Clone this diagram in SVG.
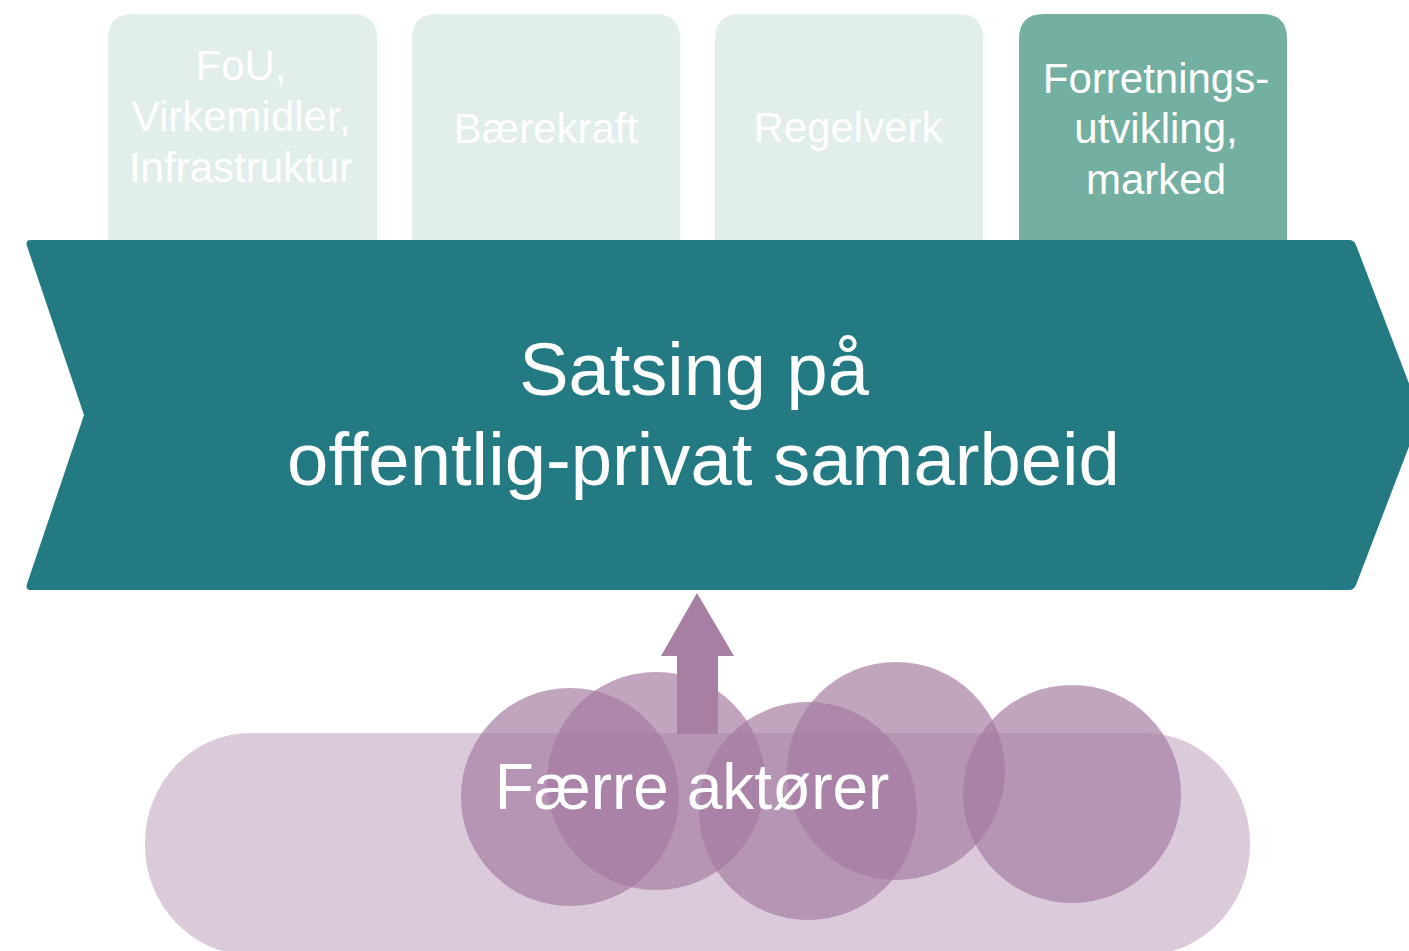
<svg xmlns="http://www.w3.org/2000/svg" width="1409" height="951" viewBox="0 0 1409 951">
  <style>
    .lbl { font-family: "Liberation Sans", Arial, sans-serif; fill: #ffffff; text-anchor: middle; }
    .top { font-size: 42px; }
    .box { fill: #E1EEEC; }
    .boxdark { fill: #74B0A2; }
    .circ { fill: #A37BA1; fill-opacity: 0.68; }
  </style>
  <rect width="1409" height="951" fill="#ffffff"/>

  <g id="box-fou">
    <path class="box" d="M108,250 V39 Q108,14 133,14 H352 Q377,14 377,39 V250 Z"/>
    <text class="lbl top" x="241" y="80">FoU,</text>
    <text class="lbl top" x="241" y="131">Virkemidler,</text>
    <text class="lbl top" x="241" y="182">Infrastruktur</text>
  </g>
  <g id="box-baerekraft">
    <path class="box" d="M412,250 V39 Q412,14 437,14 H655 Q680,14 680,39 V250 Z"/>
    <text class="lbl top" x="546" y="143">Bærekraft</text>
  </g>
  <g id="box-regelverk">
    <path class="box" d="M715,250 V39 Q715,14 740,14 H958 Q983,14 983,39 V250 Z"/>
    <text class="lbl top" x="848" y="142">Regelverk</text>
  </g>
  <g id="box-forretning">
    <path class="boxdark" d="M1019,250 V39 Q1019,14 1044,14 H1262 Q1287,14 1287,39 V250 Z"/>
    <text class="lbl top" x="1156" y="93">Forretnings-</text>
    <text class="lbl top" x="1156" y="143">utvikling,</text>
    <text class="lbl top" x="1156" y="194">marked</text>
  </g>

  <g id="chevron">
    <path fill="#247A82" d="M31,240 H1349 Q1354,240 1356,245 L1421,415 L1356,585 Q1354,590 1349,590 H31 Q25,590 27,584 L84,415 L27,246 Q25,240 31,240 Z"/>
    <text class="lbl" font-size="74" x="694" y="395">Satsing på</text>
    <text class="lbl" font-size="74.3" x="703.5" y="485">offentlig-privat samarbeid</text>
  </g>

  <g id="actors">
    <rect x="145" y="733" width="1105" height="222" rx="106" ry="110" fill="#DBCAD9"/>
    <circle class="circ" cx="570" cy="797" r="109"/>
    <circle class="circ" cx="656" cy="781" r="109"/>
    <circle class="circ" cx="808" cy="811" r="109"/>
    <circle class="circ" cx="896" cy="771" r="109"/>
    <circle class="circ" cx="1072" cy="794" r="109"/>
    <text class="lbl" font-size="64" x="692" y="809">Færre aktører</text>
  </g>

  <g id="connectors">
    <path fill="#A67FA3" d="M697,593 L734,656 H718 V734 H677 V656 H661 Z"/>
  </g>
</svg>
